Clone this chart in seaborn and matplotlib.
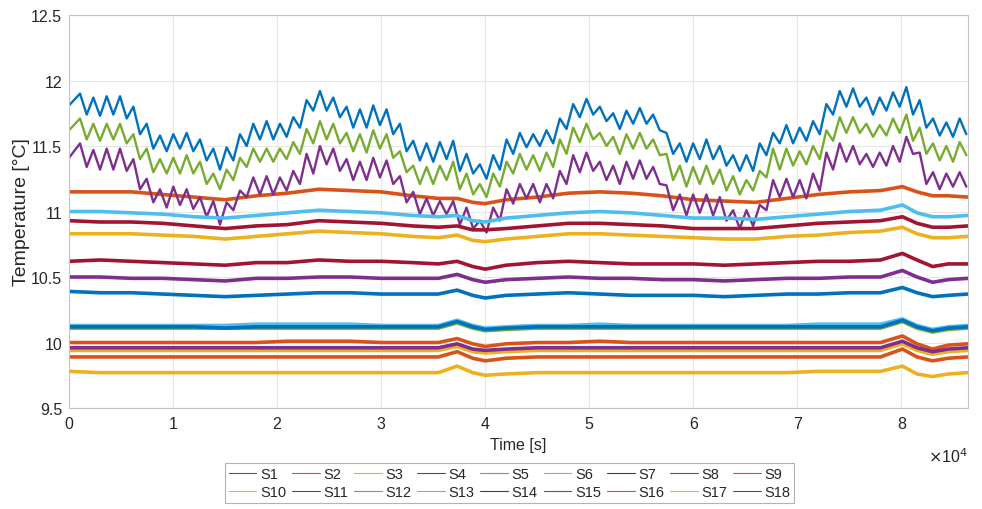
import numpy as np
import pandas as pd
import matplotlib
matplotlib.use("Agg")
import matplotlib.pyplot as plt
from matplotlib.lines import Line2D
import seaborn as sns

# ---------------- data ----------------
SERIES = [f"S{i}" for i in range(1, 19)]
MATLAB = ["#0072BD", "#D95319", "#EDB120", "#7E2F8E", "#77AC30", "#4DBEEE", "#A2142F"]
COLORS = [MATLAB[i % 7] for i in range(18)]

# oscillating sensors: value at t=0, then successive peaks / troughs (period ~1281 s)
OSC_FIRST_PEAK = 1057.0
OSC_HALF_PERIOD = 640.5

S1_start = 11.81
S1_peaks = [11.90, 11.87, 11.88, 11.88, 11.80, 11.67, 11.58, 11.59, 11.60, 11.55, 11.48, 11.49, 11.59, 11.67, 11.69, 11.67, 11.72,
            11.85, 11.92, 11.87, 11.80, 11.78, 11.81, 11.78, 11.67, 11.54, 11.52, 11.53, 11.54, 11.44, 11.36, 11.43, 11.55, 11.60,
            11.59, 11.62, 11.71, 11.82, 11.86, 11.80, 11.75, 11.77, 11.79, 11.74, 11.60, 11.52, 11.52, 11.55, 11.50, 11.43, 11.43,
            11.52, 11.60, 11.66, 11.64, 11.69, 11.82, 11.92, 11.94, 11.87, 11.87, 11.91, 11.95, 11.85, 11.71, 11.68, 11.71]
S1_troughs = [11.74, 11.73, 11.74, 11.71, 11.59, 11.48, 11.46, 11.48, 11.46, 11.39, 11.32, 11.39, 11.50, 11.55, 11.55, 11.57, 11.64,
              11.77, 11.77, 11.72, 11.64, 11.64, 11.66, 11.59, 11.46, 11.39, 11.38, 11.40, 11.31, 11.29, 11.25, 11.32, 11.44, 11.49,
              11.50, 11.52, 11.63, 11.72, 11.74, 11.69, 11.63, 11.67, 11.67, 11.62, 11.44, 11.38, 11.40, 11.40, 11.35, 11.31, 11.31,
              11.43, 11.52, 11.52, 11.54, 11.59, 11.74, 11.80, 11.80, 11.74, 11.77, 11.80, 11.74, 11.64, 11.58, 11.57, 11.59]

S12_start = 11.62
S12_peaks = [11.71, 11.67, 11.67, 11.67, 11.59, 11.48, 11.40, 11.41, 11.43, 11.38, 11.29, 11.32, 11.41, 11.48, 11.48, 11.48, 11.53,
             11.63, 11.69, 11.67, 11.60, 11.59, 11.62, 11.59, 11.46, 11.35, 11.34, 11.35, 11.38, 11.29, 11.21, 11.29, 11.38, 11.44,
             11.43, 11.45, 11.55, 11.64, 11.67, 11.60, 11.57, 11.59, 11.60, 11.55, 11.44, 11.35, 11.34, 11.35, 11.32, 11.27, 11.24,
             11.31, 11.48, 11.48, 11.46, 11.50, 11.62, 11.72, 11.72, 11.67, 11.66, 11.71, 11.74, 11.64, 11.52, 11.50, 11.53]
S12_troughs = [11.55, 11.54, 11.55, 11.52, 11.40, 11.30, 11.29, 11.29, 11.29, 11.21, 11.17, 11.24, 11.34, 11.38, 11.38, 11.40, 11.44,
               11.52, 11.55, 11.52, 11.46, 11.45, 11.48, 11.41, 11.30, 11.21, 11.21, 11.24, 11.17, 11.13, 11.11, 11.19, 11.29, 11.32,
               11.31, 11.34, 11.44, 11.53, 11.55, 11.50, 11.44, 11.48, 11.48, 11.43, 11.24, 11.19, 11.21, 11.21, 11.16, 11.13, 11.16,
               11.26, 11.32, 11.35, 11.36, 11.40, 11.54, 11.60, 11.60, 11.57, 11.58, 11.60, 11.54, 11.44, 11.39, 11.38, 11.43]

S4_start = 11.41
S4_peaks = [11.52, 11.47, 11.48, 11.48, 11.40, 11.25, 11.17, 11.19, 11.17, 11.11, 11.08, 11.07, 11.16, 11.26, 11.27, 11.26, 11.31,
            11.44, 11.50, 11.48, 11.40, 11.38, 11.41, 11.39, 11.27, 11.15, 11.10, 11.08, 11.08, 11.03, 10.93, 11.03, 11.17, 11.21,
            11.21, 11.21, 11.31, 11.43, 11.45, 11.38, 11.35, 11.38, 11.39, 11.34, 11.20, 11.13, 11.13, 11.13, 11.11, 11.01, 11.01,
            11.05, 11.24, 11.25, 11.24, 11.29, 11.45, 11.52, 11.50, 11.44, 11.45, 11.50, 11.57, 11.45, 11.30, 11.29, 11.30]
S4_troughs = [11.34, 11.32, 11.32, 11.31, 11.17, 11.07, 11.03, 11.05, 11.02, 10.96, 10.90, 11.01, 11.11, 11.13, 11.13, 11.16, 11.21,
              11.29, 11.36, 11.31, 11.24, 11.24, 11.26, 11.21, 11.07, 10.98, 10.97, 10.98, 10.90, 10.87, 10.84, 10.93, 11.06, 11.10,
              11.07, 11.10, 11.21, 11.30, 11.31, 11.24, 11.21, 11.25, 11.25, 11.21, 11.01, 10.97, 10.99, 10.97, 10.93, 10.87, 10.89,
              11.01, 11.11, 11.11, 11.10, 11.16, 11.32, 11.38, 11.36, 11.34, 11.35, 11.38, 11.44, 11.21, 11.17, 11.19, 11.19]

# slowly varying sensors, sampled at these times [s]
FLAT_T = [0, 3000, 6000, 9000, 12000, 15000, 18000, 21000, 24000, 27000, 30000, 33000, 35500, 37300, 38800, 40000, 42000,
          45000, 48000, 51000, 54000, 57000, 60000, 63000, 66000, 69000, 72000, 75000, 78000, 80100, 81500, 83000, 84500, 86400]

S2 = [11.15, 11.15, 11.15, 11.13, 11.11, 11.09, 11.12, 11.14, 11.17, 11.16, 11.15, 11.12, 11.10, 11.10, 11.07, 11.06, 11.09,
      11.11, 11.14, 11.15, 11.14, 11.12, 11.09, 11.08, 11.07, 11.10, 11.13, 11.15, 11.16, 11.19, 11.15, 11.12, 11.12, 11.11]
S6 = [11.00, 11.00, 10.99, 10.98, 10.96, 10.95, 10.97, 10.99, 11.01, 11.00, 10.99, 10.97, 10.96, 10.97, 10.93, 10.92, 10.95,
      10.97, 10.99, 11.00, 10.99, 10.97, 10.95, 10.95, 10.94, 10.96, 10.98, 11.00, 11.01, 11.05, 10.99, 10.96, 10.96, 10.97]
S7 = [10.93, 10.92, 10.92, 10.91, 10.89, 10.87, 10.89, 10.90, 10.93, 10.92, 10.91, 10.89, 10.88, 10.89, 10.86, 10.86, 10.87,
      10.89, 10.91, 10.91, 10.90, 10.89, 10.87, 10.87, 10.87, 10.89, 10.91, 10.92, 10.93, 10.96, 10.91, 10.88, 10.88, 10.89]
S3 = [10.83, 10.83, 10.83, 10.82, 10.81, 10.79, 10.81, 10.83, 10.85, 10.84, 10.83, 10.81, 10.80, 10.82, 10.78, 10.77, 10.79,
      10.81, 10.83, 10.83, 10.82, 10.81, 10.80, 10.79, 10.79, 10.81, 10.82, 10.84, 10.85, 10.88, 10.83, 10.80, 10.80, 10.81]
S14 = [10.62, 10.63, 10.62, 10.61, 10.60, 10.59, 10.61, 10.61, 10.63, 10.62, 10.62, 10.61, 10.60, 10.62, 10.58, 10.56, 10.59,
       10.61, 10.62, 10.61, 10.60, 10.60, 10.60, 10.59, 10.60, 10.61, 10.62, 10.62, 10.63, 10.68, 10.63, 10.58, 10.60, 10.60]
S11 = [10.50, 10.50, 10.49, 10.49, 10.48, 10.47, 10.49, 10.49, 10.50, 10.50, 10.49, 10.49, 10.49, 10.52, 10.48, 10.46, 10.48,
       10.49, 10.50, 10.49, 10.49, 10.48, 10.48, 10.47, 10.48, 10.49, 10.49, 10.50, 10.50, 10.55, 10.50, 10.46, 10.48, 10.49]
S8 = [10.39, 10.38, 10.38, 10.37, 10.36, 10.35, 10.36, 10.37, 10.38, 10.38, 10.37, 10.37, 10.37, 10.40, 10.36, 10.34, 10.36,
      10.37, 10.38, 10.37, 10.36, 10.36, 10.36, 10.35, 10.36, 10.37, 10.37, 10.38, 10.38, 10.42, 10.38, 10.35, 10.36, 10.37]
S15 = [10.12, 10.12, 10.12, 10.12, 10.12, 10.11, 10.12, 10.12, 10.12, 10.12, 10.12, 10.12, 10.12, 10.16, 10.12, 10.10, 10.11,
       10.12, 10.12, 10.12, 10.12, 10.12, 10.12, 10.12, 10.12, 10.12, 10.12, 10.12, 10.12, 10.17, 10.12, 10.09, 10.11, 10.12]
S13 = [10.13, 10.13, 10.13, 10.13, 10.13, 10.13, 10.14, 10.14, 10.14, 10.14, 10.13, 10.13, 10.13, 10.17, 10.13, 10.11, 10.12,
       10.13, 10.13, 10.14, 10.13, 10.13, 10.13, 10.13, 10.13, 10.13, 10.14, 10.14, 10.14, 10.18, 10.13, 10.10, 10.12, 10.13]
S5 = [10.11, 10.11, 10.11, 10.11, 10.11, 10.11, 10.11, 10.11, 10.11, 10.11, 10.11, 10.11, 10.11, 10.15, 10.11, 10.09, 10.10,
      10.11, 10.11, 10.11, 10.11, 10.11, 10.11, 10.11, 10.11, 10.11, 10.11, 10.11, 10.11, 10.16, 10.11, 10.08, 10.10, 10.11]
S9 = [10.00, 10.00, 10.00, 10.00, 10.00, 10.00, 10.00, 10.01, 10.01, 10.01, 10.00, 10.00, 10.00, 10.03, 9.99, 9.97, 9.99,
      10.00, 10.00, 10.01, 10.00, 10.00, 10.00, 10.00, 10.00, 10.00, 10.00, 10.00, 10.00, 10.05, 9.99, 9.95, 9.98, 9.99]
S18 = [9.96, 9.96, 9.96, 9.96, 9.96, 9.96, 9.96, 9.96, 9.96, 9.96, 9.96, 9.96, 9.96, 9.99, 9.95, 9.94, 9.95,
       9.96, 9.96, 9.96, 9.96, 9.96, 9.96, 9.96, 9.96, 9.96, 9.96, 9.96, 9.96, 10.01, 9.96, 9.93, 9.95, 9.96]
S10 = [9.94, 9.94, 9.94, 9.94, 9.94, 9.94, 9.94, 9.94, 9.94, 9.94, 9.94, 9.94, 9.94, 9.97, 9.93, 9.92, 9.93,
       9.94, 9.94, 9.94, 9.94, 9.94, 9.94, 9.94, 9.94, 9.94, 9.94, 9.94, 9.94, 9.99, 9.94, 9.91, 9.93, 9.94]
S16 = [9.89, 9.89, 9.89, 9.89, 9.89, 9.89, 9.89, 9.89, 9.89, 9.89, 9.89, 9.89, 9.89, 9.93, 9.88, 9.86, 9.88,
       9.89, 9.89, 9.89, 9.89, 9.89, 9.89, 9.89, 9.89, 9.89, 9.89, 9.89, 9.89, 9.95, 9.89, 9.86, 9.88, 9.89]
S17 = [9.78, 9.77, 9.77, 9.77, 9.77, 9.77, 9.77, 9.77, 9.77, 9.77, 9.77, 9.77, 9.77, 9.82, 9.77, 9.75, 9.76,
       9.77, 9.77, 9.77, 9.77, 9.77, 9.77, 9.77, 9.77, 9.77, 9.78, 9.78, 9.78, 9.82, 9.76, 9.74, 9.76, 9.77]

X_TICKS = [0, 10000, 20000, 30000, 40000, 50000, 60000, 70000, 80000]
X_TICKLABELS = ["0", "1", "2", "3", "4", "5", "6", "7", "8"]
Y_TICKS = [9.5, 10, 10.5, 11, 11.5, 12, 12.5]
Y_TICKLABELS = ["9.5", "10", "10.5", "11", "11.5", "12", "12.5"]


def osc_series(start, peaks, troughs):
    vals = [start]
    for p, tr in zip(peaks, troughs):
        vals += [p, tr]
    t = [0.0] + list(OSC_FIRST_PEAK + OSC_HALF_PERIOD * np.arange(len(vals) - 1))
    return t, vals


osc = {"S1": osc_series(S1_start, S1_peaks, S1_troughs),
       "S4": osc_series(S4_start, S4_peaks, S4_troughs),
       "S12": osc_series(S12_start, S12_peaks, S12_troughs)}
flat = {"S2": S2, "S3": S3, "S5": S5, "S6": S6, "S7": S7, "S8": S8, "S9": S9, "S10": S10, "S11": S11,
        "S13": S13, "S14": S14, "S15": S15, "S16": S16, "S17": S17, "S18": S18}

rows = []
for name in SERIES:
    if name in osc:
        t, v = osc[name]
    else:
        t, v = FLAT_T, flat[name]
    rows.append(pd.DataFrame({"series": name, "time": t, "temp": v}))
df = pd.concat(rows, ignore_index=True)

# ---------------- plot ----------------
sns.set_theme(style="white")
plt.rcParams["font.family"] = ["Liberation Sans", "DejaVu Sans"]

fig = plt.figure(figsize=(9.82, 5.10), dpi=100)
ax = fig.add_axes([0.0703, 0.198, 0.9154, 0.7706])

for name, col in zip(SERIES, COLORS):
    sub = df[df["series"] == name]
    lw = 1.7 if name in osc else 2.6
    sns.lineplot(data=sub, x="time", y="temp", ax=ax, color=col, linewidth=lw,
                 estimator=None, sort=False, legend=False,
                 solid_joinstyle="round", solid_capstyle="round")

ax.set_xlim(0, 86400)
ax.set_ylim(9.5, 12.5)
ax.set_xticks(X_TICKS)
ax.set_xticklabels(X_TICKLABELS)
ax.set_yticks(Y_TICKS)
ax.set_yticklabels(Y_TICKLABELS)
ax.grid(True, color="#e6e6e6", linewidth=0.8)
ax.set_axisbelow(True)
for sp in ax.spines.values():
    sp.set_color("#c4c4c4")
    sp.set_linewidth(0.8)
ax.tick_params(axis="both", direction="in", length=5, width=0.8, color="#9a9a9a",
               labelsize=11.5, labelcolor="#262626")
ax.tick_params(axis="x", pad=6)
ax.tick_params(axis="y", pad=5)
ax.set_xlabel("Time [s]", fontsize=11.5, color="#262626", labelpad=4)
ax.set_ylabel("Temperature [°C]", fontsize=14, color="#262626", labelpad=1)
fig.text(0.965, 0.105, r"$\times$10$^4$", fontsize=11.5, color="#262626", ha="center", va="center")

handles = [Line2D([], [], color=c, lw=0.8) for c in COLORS]
order = []
for i in range(9):
    order += [i, i + 9]
leg = fig.legend([handles[i] for i in order], [SERIES[i] for i in order], ncol=9,
                 loc="center", bbox_to_anchor=(0.519, 0.051), fontsize=10.5, frameon=True,
                 fancybox=False, handlelength=1.9, handletextpad=0.25, columnspacing=0.4,
                 labelspacing=0.3, borderpad=0.25, borderaxespad=0.0)
leg.get_frame().set_edgecolor("#a0a0a0")
leg.get_frame().set_linewidth(0.8)
for t in leg.get_texts():
    t.set_color("#262626")

fig.savefig("out.png", dpi=100)
